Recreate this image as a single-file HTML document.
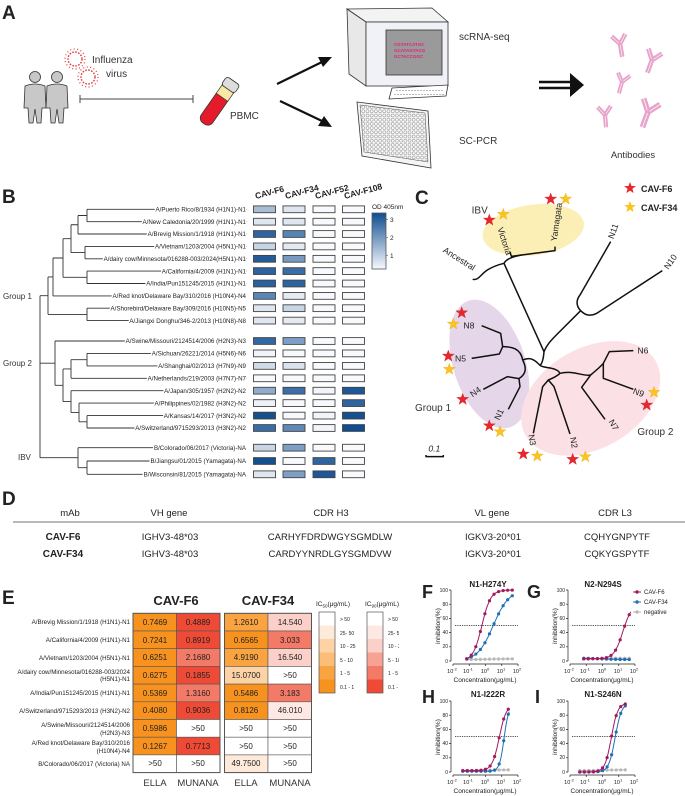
<!DOCTYPE html>
<html><head><meta charset="utf-8"><style>
html,body{margin:0;padding:0;background:#fff;}
svg{display:block;font-family:"Liberation Sans",Arial,sans-serif;}
</style></head><body>
<svg id="s" width="685" height="796" viewBox="0 0 685 796" xmlns="http://www.w3.org/2000/svg">
<defs>
<polygon id="star" points="0,-6 1.5,-2 6,-1.9 2.4,0.8 3.7,5.1 0,2.6 -3.7,5.1 -2.4,0.8 -6,-1.9 -1.5,-2"/>
<pattern id="wells" width="4.2" height="4.2" patternUnits="userSpaceOnUse"><circle cx="2.1" cy="2.1" r="1.5" fill="#fff" stroke="#555" stroke-width="0.4"/></pattern>
<g id="ab"><path d="M0,0 L0,13 M0,0 L-7,-9 M0,0 L7,-9" stroke="#e8a3cb" stroke-width="4.5" fill="none"/><path d="M0,1 L0,13 M-1,-1 L-7,-9 M1,-1 L7,-9" stroke="#fff" stroke-width="0.6" fill="none"/></g>
</defs>

<!-- ===== Panel A ===== -->
<text x="2" y="19" font-size="19" font-weight="bold" fill="#222">A</text>
<g fill="#c8c8c8" stroke="#333" stroke-width="0.8">
<circle cx="35" cy="77" r="5.5"/>
<path d="M25,86 Q35,82 45,86 L46,108 L42,108 L41,123 L37,123 L35,109 L33,123 L29,123 L28,108 L24,108 Z"/>
<circle cx="57" cy="77" r="5.5"/>
<path d="M47,86 Q57,82 67,86 L68,108 L64,108 L63,123 L59,123 L57,109 L55,123 L51,123 L50,108 L46,108 Z"/>
</g>
<g fill="none" stroke="#e03a3a">
<circle cx="75" cy="59" r="7" stroke-width="1.4" stroke-dasharray="1.6 1.4"/>
<circle cx="75" cy="59" r="10" stroke-width="1.2" stroke-dasharray="1 2.5"/>
<circle cx="88" cy="77" r="7" stroke-width="1.4" stroke-dasharray="1.6 1.4"/>
<circle cx="88" cy="77" r="10" stroke-width="1.2" stroke-dasharray="1 2.5"/>
</g>
<text x="92" y="63" font-size="10" fill="#333">Influenza</text>
<text x="106" y="77" font-size="10" fill="#333">virus</text>
<path d="M80,99 H193 M80,95 V103 M193,95 V103" stroke="#444" stroke-width="1" fill="none"/>
<g transform="rotate(35 218 103)">
<rect x="211" y="78" width="14" height="50" rx="6" fill="#e31b2a" stroke="#333" stroke-width="0.8"/>
<rect x="211" y="86" width="14" height="10" fill="#f7e9a5" stroke="#333" stroke-width="0.6"/>
<rect x="210" y="76" width="16" height="10" rx="3" fill="#ddd" stroke="#333" stroke-width="0.8"/>
</g>
<text x="230" y="119" font-size="10" fill="#333">PBMC</text>
<g stroke="#111" stroke-width="2.2">
<line x1="277" y1="84" x2="322" y2="62"/><line x1="280" y1="101" x2="322" y2="121"/>
</g>
<polygon points="332,57 318,57 323,67" fill="#111"/>
<polygon points="332,127 318,126 324,116" fill="#111"/>
<g stroke="#333" stroke-width="0.8">
<polygon points="347,9 432,8 448,22 366,22" fill="#f3f3f3"/>
<polygon points="347,9 366,22 366,86 349,74" fill="#e8e8e8"/>
<rect x="366" y="22" width="82" height="64" fill="#f0f2f7"/>
<rect x="386" y="30" width="56" height="45" fill="#9a9a9a"/>
<polygon points="392,88 448,85 446,96 389,99" fill="#fff"/>
</g>
<g fill="none" stroke="#555" stroke-width="0.4">
<path d="M396,90.5 h48 M394,94.5 h50" stroke-dasharray="2 1"/>
</g>
<g font-size="4.5" font-weight="bold" fill="#e0217a"><text x="394" y="46">CGTATCATGC</text><text x="394" y="52">GCATAGTACG</text><text x="394" y="58">GCTACCGGC</text></g>
<text x="459" y="40" font-size="10" fill="#333">scRNA-seq</text>
<polygon points="357,102 428,111 431,168 362,156" fill="#f5f5f5" stroke="#333" stroke-width="0.8"/>
<polygon points="360,105 425,113 428,162 364,152" fill="url(#wells)" stroke="#555" stroke-width="0.5"/>
<text x="459" y="144" font-size="10" fill="#333">SC-PCR</text>
<path d="M539,82 H572 M539,88 H572" stroke="#111" stroke-width="2.4"/>
<polygon points="570,73 584,85 570,97" fill="#111"/>
<use href="#ab" transform="translate(620,44) rotate(-10)"/>
<use href="#ab" transform="translate(652,60) rotate(20) scale(1.05)"/>
<use href="#ab" transform="translate(622,82) rotate(15) scale(0.9)"/>
<use href="#ab" transform="translate(605,115) rotate(-5) scale(0.95)"/>
<use href="#ab" transform="translate(648,112) rotate(20) scale(1.25)"/>
<text x="633" y="158" font-size="9.5" fill="#333" text-anchor="middle">Antibodies</text>

<!-- ===== Panel B ===== -->
<text x="2" y="203" font-size="19" font-weight="bold" fill="#222">B</text>
<g id="btree" stroke="#333" stroke-width="0.9" fill="none"></g>
<g id="bcells"></g>
<g font-size="8.5" font-weight="bold" fill="#222">
<text transform="translate(256,199) rotate(-15)">CAV-F6</text>
<text transform="translate(286,199) rotate(-15)">CAV-F34</text>
<text transform="translate(316,199) rotate(-15)">CAV-F52</text>
<text transform="translate(345,199) rotate(-15)">CAV-F108</text>
</g>
<defs><linearGradient id="odg" x1="0" y1="1" x2="0" y2="0"><stop offset="0" stop-color="#f7f9fc"/><stop offset="1" stop-color="#0f4e90"/></linearGradient></defs>
<text x="372" y="209" font-size="6.5" fill="#222">OD 405nm</text>
<rect x="372" y="213" width="14" height="56" fill="url(#odg)" stroke="#555" stroke-width="0.8"/>
<g font-size="6.5" fill="#222"><text x="390" y="222">3</text><text x="390" y="240">2</text><text x="390" y="258">1</text></g>
<g stroke="#555" stroke-width="0.6"><line x1="386" y1="219.5" x2="388" y2="219.5"/><line x1="386" y1="237.5" x2="388" y2="237.5"/><line x1="386" y1="255.5" x2="388" y2="255.5"/></g>
<g font-size="6.2" fill="#222" text-anchor="end" stroke="#fff" stroke-width="3" paint-order="stroke" stroke-linejoin="round">
<text x="246" y="211.5">A/Puerto Rico/8/1934 (H1N1)-N1</text>
<text x="246" y="223.9">A/New Caledonia/20/1999 (H1N1)-N1</text>
<text x="246" y="236.2">A/Brevig Mission/1/1918 (H1N1)-N1</text>
<text x="246" y="248.6">A/Vietnam/1203/2004 (H5N1)-N1</text>
<text x="246" y="261">A/dairy cow/Minnesota/016288-003/2024(H5N1)-N1</text>
<text x="246" y="273.3">A/California/4/2009 (H1N1)-N1</text>
<text x="246" y="285.7">A/India/Pun151245/2015 (H1N1)-N1</text>
<text x="246" y="298.1">A/Red knot/Delaware Bay/310/2016 (H10N4)-N4</text>
<text x="246" y="310.4">A/Shorebird/Delaware Bay/309/2016 (H10N5)-N5</text>
<text x="246" y="322.8">A/Jiangxi Donghu/346-2/2013 (H10N8)-N8</text>
<text x="246" y="343.2">A/Swine/Missouri/2124514/2006 (H2N3)-N3</text>
<text x="246" y="355.6">A/Sichuan/26221/2014 (H5N6)-N6</text>
<text x="246" y="368.1">A/Shanghai/02/2013 (H7N9)-N9</text>
<text x="246" y="380.5">A/Netherlands/219/2003 (H7N7)-N7</text>
<text x="246" y="392.9">A/Japan/305/1957 (H2N2)-N2</text>
<text x="246" y="405.3">A/Philippines/02/1982 (H3N2)-N2</text>
<text x="246" y="417.8">A/Kansas/14/2017 (H3N2)-N2</text>
<text x="246" y="430.2">A/Switzerland/9715293/2013 (H3N2)-N2</text>
<text x="246" y="449.9">B/Colorado/06/2017 (Victoria)-NA</text>
<text x="246" y="463.2">B/Jiangsu/01/2015 (Yamagata)-NA</text>
<text x="246" y="476.5">B/Wisconsin/81/2015 (Yamagata)-NA</text>
</g>
<g font-size="8" fill="#333"><text x="3" y="299">Group 1</text><text x="3" y="366">Group 2</text><text x="18" y="460">IBV</text></g>

<!-- ===== Panel C ===== -->
<text x="415" y="204" font-size="19" font-weight="bold" fill="#222">C</text>
<g transform="translate(400,180) scale(0.33333)">
<ellipse cx="400" cy="150" rx="153" ry="76" transform="rotate(-8 400 150)" fill="#fcefb6"/>
<ellipse cx="268" cy="552" rx="108" ry="200" transform="rotate(-18 268 552)" fill="#e5d7e9"/>
<ellipse cx="572" cy="655" rx="225" ry="150" transform="rotate(-30 572 655)" fill="#fbe1e6"/>
<g fill="none" stroke="#111" stroke-width="4.5" stroke-linejoin="round">
<path d="M218,298 C235,302 240,285 262,270 C285,256 300,253 312,250"/>
<path d="M312,250 C318,238 335,230 365,225"/>
<path d="M330,215 L334,229 L465,212 L465,200"/>
<path d="M312,250 L432,515"/>
<path d="M432,515 C440,495 452,482 472,462 L542,392"/>
<path d="M542,392 C528,378 528,360 540,345 L632,185"/>
<path d="M542,392 C556,406 570,410 590,400 L787,272"/>
<path d="M432,515 C430,540 425,552 420,556"/>
<path d="M420,556 C405,540 392,530 368,540"/>
<path d="M368,540 C362,505 335,500 308,500"/>
<path d="M245,437 L302,460 L308,500 L298,522 L215,535"/>
<path d="M368,540 C378,560 382,580 357,596"/>
<path d="M250,628 L322,590 L357,596 L360,620 L325,688"/>
<path d="M420,556 C432,566 470,560 480,580"/>
<path d="M480,580 C470,590 455,596 445,600"/>
<path d="M400,760 L428,620 L445,600 L462,620 L510,762"/>
<path d="M480,580 C520,570 550,590 572,585"/>
<path d="M572,585 L545,622 L615,718"/>
<path d="M572,585 C590,570 602,560 610,550"/>
<path d="M700,512 L628,515 L610,550 L610,595 L700,628"/>
<path d="M78,825 V830 H130 V825"/>
</g>
<g font-size="26" fill="#222">
<text transform="translate(292,145) rotate(72)">Victoria</text>
<text transform="translate(470,185) rotate(-82)">Yamagata</text>
<text transform="translate(127,215) rotate(32)">Ancestral</text>
<text transform="translate(640,178) rotate(-70)">N11</text>
<text transform="translate(805,270) rotate(-55)">N10</text>
<text x="190" y="446">N8</text>
<text x="165" y="545">N5</text>
<text transform="translate(218,652) rotate(-35)">N4</text>
<text transform="translate(298,722) rotate(-65)">N1</text>
<text transform="translate(385,765) rotate(80)">N3</text>
<text transform="translate(510,773) rotate(80)">N2</text>
<text transform="translate(625,725) rotate(60)">N7</text>
<text transform="translate(697,640) rotate(20)">N9</text>
<text x="712" y="520">N6</text>
<text x="85" y="815" font-style="italic">0.1</text>
</g>
<g font-size="30" fill="#333"><text x="215" y="100">IBV</text><text x="45" y="693">Group 1</text><text x="712" y="765">Group 2</text></g>
<g transform="scale(3)">
<g fill="#e8262b" stroke="#c01c20" stroke-width="0.3">
<use href="#star" x="89.3" y="40"/><use href="#star" x="150.7" y="19"/><use href="#star" x="61.7" y="132.7"/><use href="#star" x="48.3" y="176"/><use href="#star" x="62.7" y="219.3"/><use href="#star" x="89.3" y="245.7"/><use href="#star" x="123.3" y="274"/><use href="#star" x="172.7" y="279.3"/><use href="#star" x="246.7" y="225"/>
</g>
<g fill="#fbc322" stroke="#e0a812" stroke-width="0.3">
<use href="#star" x="103.3" y="34.3"/><use href="#star" x="165.7" y="19"/><use href="#star" x="53.3" y="144"/><use href="#star" x="49.3" y="189.3"/><use href="#star" x="100" y="251.7"/><use href="#star" x="137.3" y="276"/><use href="#star" x="185.3" y="276.7"/><use href="#star" x="254" y="212.3"/>
</g>
</g>
</g>
<use href="#star" x="630" y="188" fill="#e8262b"/>
<use href="#star" x="630" y="207" fill="#fbc322"/>
<text x="641" y="192" font-size="9" font-weight="bold" fill="#222">CAV-F6</text>
<text x="641" y="211" font-size="9" font-weight="bold" fill="#222">CAV-F34</text>

<!-- ===== Panel D ===== -->
<text x="2" y="505" font-size="19" font-weight="bold" fill="#222">D</text>
<g font-size="9.5" fill="#222" text-anchor="middle">
<text x="70" y="516">mAb</text><text x="169" y="516">VH gene</text><text x="331" y="516">CDR H3</text><text x="492" y="516">VL gene</text><text x="615" y="516">CDR L3</text>
<text x="63" y="540" font-weight="bold" font-size="10">CAV-F6</text>
<text x="63" y="557" font-weight="bold" font-size="10">CAV-F34</text>
<text x="170" y="540">IGHV3-48*03</text><text x="170" y="557">IGHV3-48*03</text>
<text x="330" y="540">CARHYFDRDWGYSGMDLW</text><text x="330" y="557">CARDYYNRDLGYSGMDVW</text>
<text x="493" y="540">IGKV3-20*01</text><text x="493" y="557">IGKV3-20*01</text>
<text x="617" y="540">CQHYGNPYTF</text><text x="617" y="557">CQKYGSPYTF</text>
</g>
<line x1="13" y1="522" x2="685" y2="522" stroke="#444" stroke-width="0.8"/>

<!-- ===== Panel E ===== -->
<text x="2" y="604" font-size="19" font-weight="bold" fill="#222">E</text>
<g font-size="13" font-weight="bold" fill="#222" text-anchor="middle"><text x="176" y="605">CAV-F6</text><text x="268" y="605">CAV-F34</text></g>
<g id="ecells" stroke="#555" stroke-width="0.6"></g>
<g font-size="8" fill="#222" text-anchor="middle">
<text x="155" y="625">0.7469</text><text x="198" y="625">0.4889</text><text x="246" y="625">1.2610</text><text x="290" y="625">14.540</text>
<text x="155" y="643">0.7241</text><text x="198" y="643">0.8919</text><text x="246" y="643">0.6565</text><text x="290" y="643">3.033</text>
<text x="155" y="660">0.6251</text><text x="198" y="660">2.1680</text><text x="246" y="660">4.9190</text><text x="290" y="660">16.540</text>
<text x="155" y="678">0.6275</text><text x="198" y="678">0.1855</text><text x="246" y="678">15.0700</text><text x="290" y="678">&gt;50</text>
<text x="155" y="696">0.5369</text><text x="198" y="696">1.3160</text><text x="246" y="696">0.5486</text><text x="290" y="696">3.183</text>
<text x="155" y="713">0.4080</text><text x="198" y="713">0.9036</text><text x="246" y="713">0.8126</text><text x="290" y="713">46.010</text>
<text x="155" y="731">0.5986</text><text x="198" y="731">&gt;50</text><text x="246" y="731">&gt;50</text><text x="290" y="731">&gt;50</text>
<text x="155" y="749">0.1267</text><text x="198" y="749">0.7713</text><text x="246" y="749">&gt;50</text><text x="290" y="749">&gt;50</text>
<text x="155" y="766">&gt;50</text><text x="198" y="766">&gt;50</text><text x="246" y="766">49.7500</text><text x="290" y="766">&gt;50</text>
</g>
<g font-size="6.2" fill="#222" text-anchor="end">
<text x="130" y="624">A/Brevig Mission/1/1918 (H1N1)-N1</text>
<text x="130" y="642">A/California/4/2009 (H1N1)-N1</text>
<text x="130" y="660">A/Vietnam/1203/2004 (H5N1)-N1</text>
<text x="130" y="674">A/dairy cow/Minnesota/016288-003/2024</text><text x="130" y="681">(H5N1)-N1</text>
<text x="130" y="695">A/India/Pun151245/2015 (H1N1)-N1</text>
<text x="130" y="713">A/Switzerland/9715293/2013 (H3N2)-N2</text>
<text x="130" y="727">A/Swine/Missouri/2124514/2006</text><text x="130" y="735">(H2N3)-N3</text>
<text x="130" y="745">A/Red knot/Delaware Bay/310/2016</text><text x="130" y="753">(H10N4)-N4</text>
<text x="130" y="766">B/Colorado/06/2017 (Victoria) NA</text>
</g>
<g font-size="9.5" fill="#333" text-anchor="middle"><text x="155" y="786">ELLA</text><text x="198" y="786">MUNANA</text><text x="246" y="786">ELLA</text><text x="290" y="786">MUNANA</text></g>
<g id="eleg"></g>
<g font-size="6.5" fill="#222"><text x="316" y="606">IC<tspan font-size="4.5" dy="1.5">50</tspan><tspan dy="-1.5">(μg/mL)</tspan></text><text x="365" y="606">IC<tspan font-size="4.5" dy="1.5">90</tspan><tspan dy="-1.5">(μg/mL)</tspan></text></g>
<g font-size="5" fill="#222">
<text x="340" y="621">&gt; 50</text><text x="340" y="635">25- 50</text><text x="340" y="648">10 - 25</text><text x="340" y="662">5 - 10</text><text x="340" y="675">1 - 5</text><text x="340" y="689">0.1 - 1</text>
<text x="388" y="621">&gt; 50</text><text x="388" y="635">25- 5</text><text x="388" y="648">10 - 2</text><text x="388" y="662">5 - 10</text><text x="388" y="675">1 - 5</text><text x="388" y="689">0.1 - 1</text>
</g>
<rect x="399" y="585" width="286" height="211" fill="#fff"/>

<!-- ===== Panels F-I ===== -->
<g font-size="18" font-weight="bold" fill="#222"><text x="422" y="598">F</text><text x="527" y="598">G</text><text x="422" y="703">H</text><text x="535" y="703">I</text></g>
<g font-size="8" font-weight="bold" fill="#222" text-anchor="middle"><text x="488" y="587">N1-H274Y</text><text x="603" y="587">N2-N294S</text><text x="488" y="697">N1-I222R</text><text x="603" y="697">N1-S246N</text></g>
<g>
<g stroke="#222" stroke-width="0.7" fill="none">
<path d="M451,590 V661 M449,590 H451 M449,604.2 H451 M449,618.4 H451 M449,632.6 H451 M449,646.8 H451 M449,661 H451"/>
<path d="M453,664 H518 M453,664 V666 M469.25,664 V666 M485.5,664 V666 M501.75,664 V666 M518,664 V666"/>
</g>
<line x1="455" y1="625.5" x2="518" y2="625.5" stroke="#222" stroke-width="0.8" stroke-dasharray="1.3 1"/>
<g font-size="5" fill="#222" text-anchor="end"><text x="448" y="592">100</text><text x="448" y="606">80</text><text x="448" y="620">60</text><text x="448" y="634">40</text><text x="448" y="648">20</text><text x="448" y="663">0</text></g>
<g font-size="5.5" fill="#222" text-anchor="middle"><text x="452" y="673">10<tspan font-size="4" dy="-2.5">-2</tspan></text><text x="468" y="673">10<tspan font-size="4" dy="-2.5">-1</tspan></text><text x="485" y="673">10<tspan font-size="4" dy="-2.5">0</tspan></text><text x="501" y="673">10<tspan font-size="4" dy="-2.5">1</tspan></text><text x="517" y="673">10<tspan font-size="4" dy="-2.5">2</tspan></text></g>
<text x="485" y="682" font-size="6.5" fill="#222" text-anchor="middle">Concentration(μg/mL)</text>
<text transform="translate(440,626) rotate(-90)" font-size="6.5" fill="#222" text-anchor="middle">inhibition(%)</text>
</g>
<g transform="translate(117,0)">
<g stroke="#222" stroke-width="0.7" fill="none">
<path d="M451,590 V661 M449,590 H451 M449,604.2 H451 M449,618.4 H451 M449,632.6 H451 M449,646.8 H451 M449,661 H451"/>
<path d="M453,664 H518 M453,664 V666 M469.25,664 V666 M485.5,664 V666 M501.75,664 V666 M518,664 V666"/>
</g>
<line x1="455" y1="625.5" x2="518" y2="625.5" stroke="#222" stroke-width="0.8" stroke-dasharray="1.3 1"/>
<g font-size="5" fill="#222" text-anchor="end"><text x="448" y="592">100</text><text x="448" y="606">80</text><text x="448" y="620">60</text><text x="448" y="634">40</text><text x="448" y="648">20</text><text x="448" y="663">0</text></g>
<g font-size="5.5" fill="#222" text-anchor="middle"><text x="452" y="673">10<tspan font-size="4" dy="-2.5">-2</tspan></text><text x="468" y="673">10<tspan font-size="4" dy="-2.5">-1</tspan></text><text x="485" y="673">10<tspan font-size="4" dy="-2.5">0</tspan></text><text x="501" y="673">10<tspan font-size="4" dy="-2.5">1</tspan></text><text x="517" y="673">10<tspan font-size="4" dy="-2.5">2</tspan></text></g>
<text x="485" y="682" font-size="6.5" fill="#222" text-anchor="middle">Concentration(μg/mL)</text>
<text transform="translate(440,626) rotate(-90)" font-size="6.5" fill="#222" text-anchor="middle">inhibition(%)</text>
</g>
<g transform="translate(0,111)">
<g stroke="#222" stroke-width="0.7" fill="none">
<path d="M451,590 V661 M449,590 H451 M449,604.2 H451 M449,618.4 H451 M449,632.6 H451 M449,646.8 H451 M449,661 H451"/>
<path d="M453,664 H518 M453,664 V666 M469.25,664 V666 M485.5,664 V666 M501.75,664 V666 M518,664 V666"/>
</g>
<line x1="455" y1="625.5" x2="518" y2="625.5" stroke="#222" stroke-width="0.8" stroke-dasharray="1.3 1"/>
<g font-size="5" fill="#222" text-anchor="end"><text x="448" y="592">100</text><text x="448" y="606">80</text><text x="448" y="620">60</text><text x="448" y="634">40</text><text x="448" y="648">20</text><text x="448" y="663">0</text></g>
<g font-size="5.5" fill="#222" text-anchor="middle"><text x="452" y="673">10<tspan font-size="4" dy="-2.5">-2</tspan></text><text x="468" y="673">10<tspan font-size="4" dy="-2.5">-1</tspan></text><text x="485" y="673">10<tspan font-size="4" dy="-2.5">0</tspan></text><text x="501" y="673">10<tspan font-size="4" dy="-2.5">1</tspan></text><text x="517" y="673">10<tspan font-size="4" dy="-2.5">2</tspan></text></g>
<text x="485" y="682" font-size="6.5" fill="#222" text-anchor="middle">Concentration(μg/mL)</text>
<text transform="translate(440,626) rotate(-90)" font-size="6.5" fill="#222" text-anchor="middle">inhibition(%)</text>
</g>
<g transform="translate(117,111)">
<g stroke="#222" stroke-width="0.7" fill="none">
<path d="M451,590 V661 M449,590 H451 M449,604.2 H451 M449,618.4 H451 M449,632.6 H451 M449,646.8 H451 M449,661 H451"/>
<path d="M453,664 H518 M453,664 V666 M469.25,664 V666 M485.5,664 V666 M501.75,664 V666 M518,664 V666"/>
</g>
<line x1="455" y1="625.5" x2="518" y2="625.5" stroke="#222" stroke-width="0.8" stroke-dasharray="1.3 1"/>
<g font-size="5" fill="#222" text-anchor="end"><text x="448" y="592">100</text><text x="448" y="606">80</text><text x="448" y="620">60</text><text x="448" y="634">40</text><text x="448" y="648">20</text><text x="448" y="663">0</text></g>
<g font-size="5.5" fill="#222" text-anchor="middle"><text x="452" y="673">10<tspan font-size="4" dy="-2.5">-2</tspan></text><text x="468" y="673">10<tspan font-size="4" dy="-2.5">-1</tspan></text><text x="485" y="673">10<tspan font-size="4" dy="-2.5">0</tspan></text><text x="501" y="673">10<tspan font-size="4" dy="-2.5">1</tspan></text><text x="517" y="673">10<tspan font-size="4" dy="-2.5">2</tspan></text></g>
<text x="485" y="682" font-size="6.5" fill="#222" text-anchor="middle">Concentration(μg/mL)</text>
<text transform="translate(440,626) rotate(-90)" font-size="6.5" fill="#222" text-anchor="middle">inhibition(%)</text>
</g>
<g id="curves"></g>
<g stroke-width="1">
<line x1="633" y1="592" x2="641" y2="592" stroke="#a3195b"/><circle cx="637" cy="592" r="1.7" fill="#a3195b"/>
<line x1="633" y1="602" x2="641" y2="602" stroke="#1f6fb5"/><circle cx="637" cy="602" r="1.7" fill="#1f6fb5"/>
<line x1="633" y1="612" x2="641" y2="612" stroke="#b8b8b8"/><circle cx="637" cy="612" r="1.7" fill="#b8b8b8"/>
</g>
<g font-size="6" fill="#222"><text x="644" y="594">CAV-F6</text><text x="644" y="604">CAV-F34</text><text x="644" y="614">negative</text></g>
</svg>
<script>
(function(){
var NS="http://www.w3.org/2000/svg";
function el(p,t,a){var e=document.createElementNS(NS,t);for(var k in a)e.setAttribute(k,a[k]);p.appendChild(e);return e;}
var R=[209.3,221.7,234,246.4,258.8,271.1,283.5,295.9,308.2,320.6,341,353.4,365.9,378.3,390.7,403.1,415.6,428,447.7,461,474.3];
var T=document.getElementById('btree'),d="";
var lx=[87,87,78,85,85,87,87,53,87,87,55,87,87,71,71,79,87,87,78,87,87];
lx.forEach(function(x,i){d+="M"+x+","+R[i]+"H246.5 ";});
var N=[[87,R[0],R[1],78],[78,215.5,R[2],71],[85,R[3],R[4],71],[71,224.75,252.6,63],[87,R[5],R[6],63],[63,238.7,277.3,53],[53,258,R[7],48],[87,R[8],R[9],48],[48,276.95,314.4,40],
[87,R[11],R[12],71],[71,359.65,R[13],63],[87,R[16],R[17],79],[79,R[15],421.8,71],[71,R[14],412.45,63],[63,368.95,401.6,55],[55,R[10],385.3,40],[87,R[19],R[20],78],[78,R[18],467.65,40]];
N.forEach(function(n){d+="M"+n[0]+","+n[1]+"V"+n[2]+" M"+n[3]+","+((n[1]+n[2])/2)+"H"+n[0]+" ";});
d+="M40,295.7V457.7";
el(T,'path',{d:d});
var w='#f7f9fc';
var C=[["#a9bed5","#dde5ef",w,w],["#dfe6ef","#dfe6ef",w,w],["#2f64a0","#5684b5",w,w],["#c8d5e5","#e6ebf2",w,w],["#245c9a","#7799c2",w,w],["#2c62a0","#3a6ca6",w,w],["#2a609e","#2d63a0",w,w],["#5a86b6","#e6ebf2",w,w],["#dfe6ef","#c8d5e5",w,w],["#dfe6ef","#e6ebf2",w,w],
["#3168a3","#7e9fc5",w,w],["#f1f4f8",w,w,w],["#cfdbe9","#dbe3ee",w,w],[w,w,w,w],["#8faccc","#3d6ea7","#f1f4f8","#1e5699"],["#eef2f7",w,w,"#2f64a0"],["#15508f",w,"#f1f4f8","#15508f"],["#3a6ca6","#6188b7","#f1f4f8","#0f4e90"],["#c8d5e5","#7e9fc5",w,w],["#15508f",w,"#2f64a0",w],["#dfe6ef","#7e9fc5","#1e5699",w]];
var X=[253.5,283,313,342.5],B=document.getElementById('bcells');
C.forEach(function(r,i){r.forEach(function(c,j){el(B,'rect',{x:X[j],y:R[i]-3.4,width:22,height:6.8,fill:c,stroke:'#444','stroke-width':0.9});});});
var o=["#f7921e","#f9a441","#fbbd77","#fdd3a5","#feeadb","#ffffff"],rr=["#ef4a36","#f47a68","#f8a294","#fbd0c9","#fde8e4","#ffffff"];
var E=[[o[0],rr[0],o[1],rr[3]],[o[0],rr[0],o[0],rr[1]],[o[0],rr[1],o[1],rr[3]],[o[0],rr[0],o[3],'#fff'],[o[0],rr[1],o[0],rr[1]],[o[0],rr[0],o[0],rr[4]],[o[0],'#fff','#fff','#fff'],[o[0],rr[0],'#fff','#fff'],['#fff','#fff',o[4],'#fff']];
var EX=[133,176.5,224.5,268],EG=document.getElementById('ecells');
E.forEach(function(r,i){r.forEach(function(c,j){el(EG,'rect',{x:EX[j],y:613.3+i*17.7,width:43.5,height:17.7,fill:c});});});
el(EG,'rect',{x:133,y:613.3,width:87,height:159.3,fill:'none','stroke-width':1});
el(EG,'rect',{x:224.5,y:613.3,width:87,height:159.3,fill:'none','stroke-width':1});
var L=document.getElementById('eleg');
for(var k=0;k<6;k++){el(L,'rect',{x:319,y:612+k*13.5,width:16,height:13.5,fill:o[5-k]});el(L,'rect',{x:367,y:612+k*13.5,width:16,height:13.5,fill:rr[5-k]});}
el(L,'rect',{x:319,y:612,width:16,height:81,fill:'none',stroke:'#555','stroke-width':0.7});
el(L,'rect',{x:367,y:612,width:16,height:81,fill:'none',stroke:'#555','stroke-width':0.7});
var G=document.getElementById('curves');
function panel(dx,dy,ser){
 function px(c){return 453+dx+(Math.log10(c)+2)*16.25;}
 function py(v){return 661+dy-0.71*v;}
 ser.forEach(function(s){
  var f=function(c){return s.b+(s.t-s.b)/(1+Math.pow(s.ic/c,s.h));};
  var dd="";for(var lc=Math.log10(s.c0);lc<=Math.log10(s.c1)+1e-9;lc+=0.05){var c=Math.pow(10,lc);dd+=(dd?"L":"M")+px(c).toFixed(1)+","+py(f(c)).toFixed(1);}
  el(G,'path',{d:dd,fill:'none',stroke:s.col,'stroke-width':1});
  for(var lc2=Math.log10(s.c0);lc2<=Math.log10(s.c1)+1e-9;lc2+=s.st){var c2=Math.pow(10,lc2);el(G,'circle',{cx:px(c2),cy:py(f(c2)),r:1.6,fill:s.col});}
 });
}
var M="#a3195b",Bl="#1f6fb5",Gr="#b8b8b8";
panel(0,0,[{col:Gr,b:2,t:3,ic:1,h:1,c0:0.07,c1:60,st:0.28},{col:Bl,b:0,t:100,ic:3,h:0.9,c0:0.07,c1:60,st:0.28},{col:M,b:0,t:100,ic:0.6,h:1.6,c0:0.07,c1:60,st:0.28}]);
panel(117,0,[{col:Gr,b:3,t:4,ic:1,h:1,c0:0.07,c1:60,st:0.28},{col:Bl,b:4,t:2,ic:1,h:1,c0:0.07,c1:60,st:0.28},{col:M,b:3,t:80,ic:18,h:1.6,c0:0.07,c1:60,st:0.28}]);
panel(0,111,[{col:Gr,b:2,t:3,ic:1,h:1,c0:0.04,c1:30,st:0.28},{col:Bl,b:1,t:95,ic:14,h:3,c0:0.04,c1:30,st:0.28},{col:M,b:2,t:95,ic:7,h:2,c0:0.04,c1:30,st:0.28}]);
panel(117,111,[{col:Gr,b:2,t:3,ic:1,h:1,c0:0.04,c1:30,st:0.28},{col:Bl,b:0,t:97,ic:6,h:2.2,c0:0.04,c1:30,st:0.28},{col:M,b:0,t:97,ic:3.5,h:2.2,c0:0.04,c1:30,st:0.28}]);
})();
</script>
</body></html>
